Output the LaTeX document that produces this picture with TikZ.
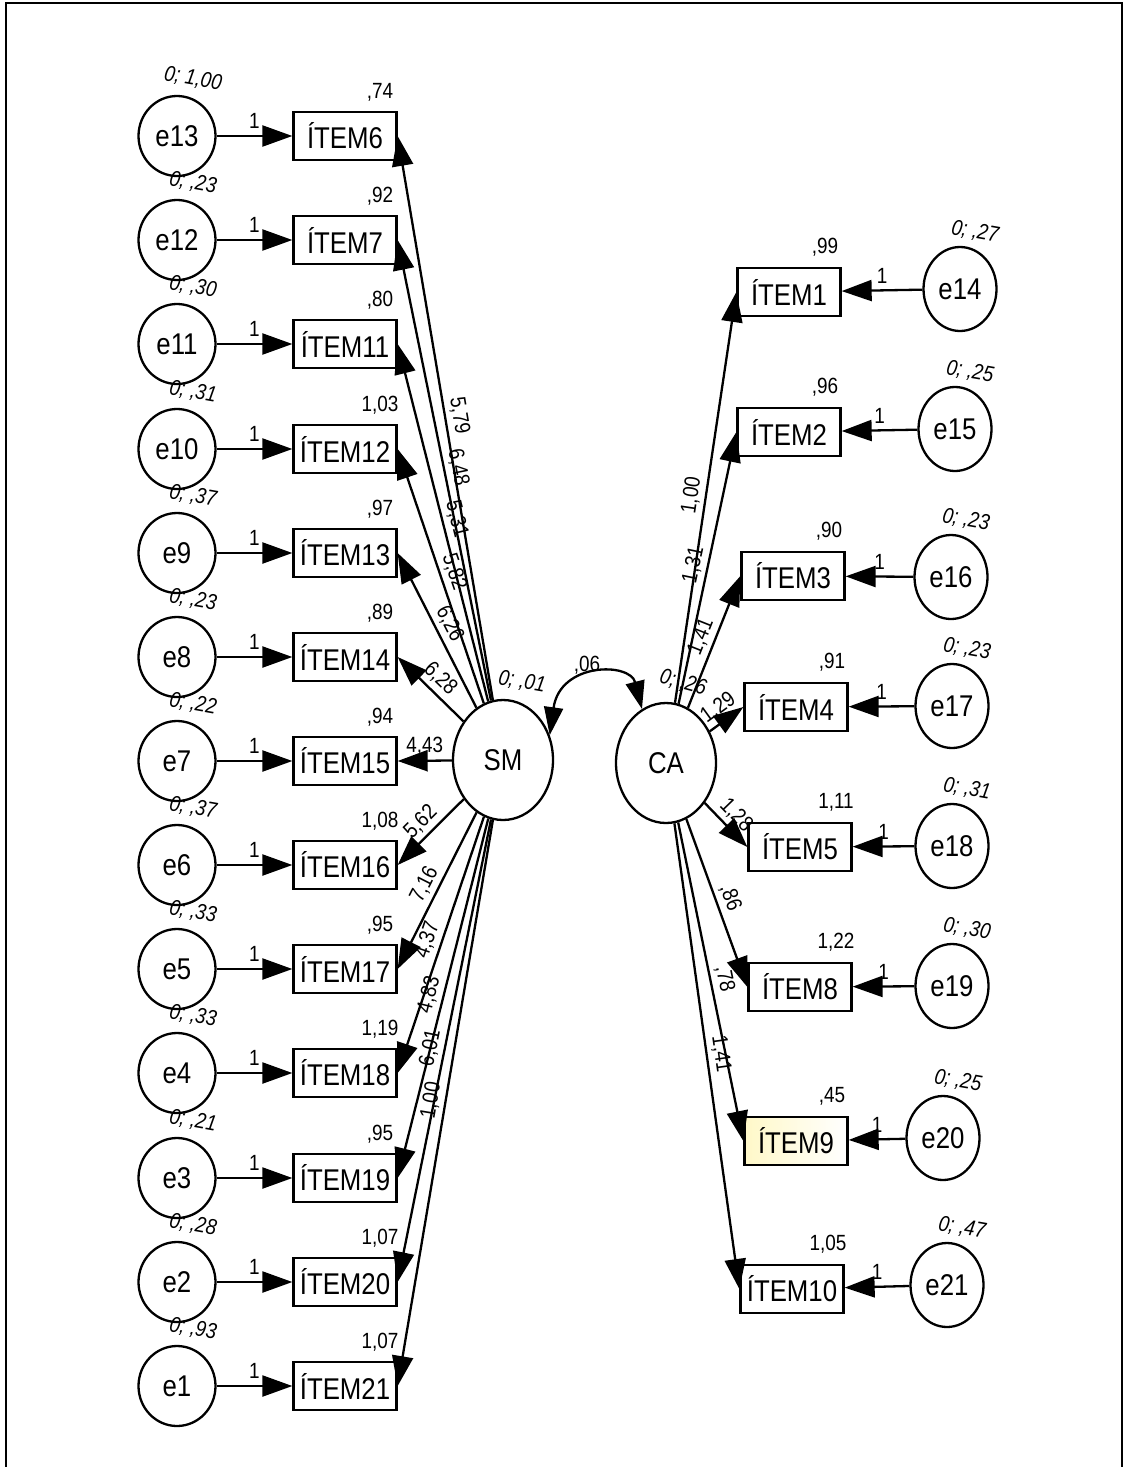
\documentclass[tikz,border=0pt]{standalone}
\usepackage{fontspec}
\setmainfont{Liberation Sans}[FakeStretch=0.86]
\usetikzlibrary{arrows.meta,shapes.geometric}
\newcommand{\LeftRow}[6]{%
  \node[err] (#2) at (177,#1) {#3};
  \node[item] (L#4) at (345,#1) {ÍTEM#4};
  \node[var] (v#2) at (193,#1-57) {#5};
  \node[lbl] (i#4) at (380,#1-44) {#6};
  \draw[path] (#2) -- node[lbl, above=5pt, pos=0.5] {1} (L#4);
}
\newcommand{\RightRow}[9]{%
  \node[item,#9] (R#4) at (#1) {ÍTEM#4};
  \node[errR] (#5) at (#2) {#5};
  \node[lbl] (i#4) at ([shift={(36,-45)}]R#4.center) {#7};
  \node[var] (v#5) at ([shift={(15,-57)}]#5.center) {#6};
  \draw[path] (#5) -- node[lbl, above=5pt] {1} (R#4);
  \draw[path] (ca) -- node[lbl, sloped, above=3pt] {#8} (R#4.west);
}
\begin{document}
\begin{tikzpicture}[x=1pt,y=-1pt,
  item/.style={draw, line width=2.3pt, rectangle, minimum width=103pt, minimum height=48pt, inner sep=0pt, font=\fontsize{30}{34}\selectfont},
  err/.style={draw, line width=2.3pt, ellipse, minimum width=77pt, minimum height=80pt, inner sep=0pt, font=\fontsize{30}{34}\selectfont},
  errR/.style={err, minimum width=73pt, minimum height=84pt},
  lat/.style={draw, line width=2.3pt, ellipse, minimum width=100pt, minimum height=120pt, inner sep=0pt, font=\fontsize{30}{34}\selectfont},
  path/.style={line width=2.3pt, -{Triangle[length=30pt,width=21pt]}},
  lbl/.style={font=\fontsize{22}{26}\selectfont, inner sep=1pt},
  var/.style={font=\fontsize{22}{26}\selectfont\itshape, rotate=-10, inner sep=0pt},
]
\useasboundingbox (0,0) rectangle (1125,1467);
\draw[line width=2.5pt] (6,1467) -- (6,3) -- (1122,3) -- (1122,1467);

% latent variables
\node[lat] (sm) at (503,760) {SM};
\node[lat] (ca) at (666,763) {CA};

% left side
\LeftRow{136}{e13}{e13}{6}{0; 1,00}{,74}
\LeftRow{240}{e12}{e12}{7}{0; ,23}{,92}
\LeftRow{344}{e11}{e11}{11}{0; ,30}{,80}
\LeftRow{449}{e10}{e10}{12}{0; ,31}{1,03}
\LeftRow{553}{e9}{e9}{13}{0; ,37}{,97}
\LeftRow{657}{e8}{e8}{14}{0; ,23}{,89}
\LeftRow{761}{e7}{e7}{15}{0; ,22}{,94}
\LeftRow{865}{e6}{e6}{16}{0; ,37}{1,08}
\LeftRow{969}{e5}{e5}{17}{0; ,33}{,95}
\LeftRow{1073}{e4}{e4}{18}{0; ,33}{1,19}
\LeftRow{1178}{e3}{e3}{19}{0; ,21}{,95}
\LeftRow{1282}{e2}{e2}{20}{0; ,28}{1,07}
\LeftRow{1386}{e1}{e1}{21}{0; ,93}{1,07}

\foreach \n/\l in {6/{5,79},7/{6,48},11/{5,31},12/{5,82},13/{6,26},14/{6,28},15/{4,43},16/{5,62},17/{7,16},18/{4,37},19/{4,83},20/{6,01},21/{1,00}}
  \draw[path] (sm) -- node[lbl, sloped, above=3pt] {\l} (L\n.east);

% right side
\RightRow{789,292}{960,289}{}{1}{e14}{0; ,27}{,99}{1,00}{}
\RightRow{789,432}{955,429}{}{2}{e15}{0; ,25}{,96}{1,31}{}
\RightRow{793,576}{951,577}{}{3}{e16}{0; ,23}{,90}{1,41}{}
\RightRow{796,707}{952,706}{}{4}{e17}{0; ,23}{,91}{1,29}{}
\RightRow{800,847}{952,846}{}{5}{e18}{0; ,31}{1,11}{1,28}{}
\RightRow{800,987}{952,986}{}{8}{e19}{0; ,30}{1,22}{,86}{}
\RightRow{796,1141}{943,1138}{}{9}{e20}{0; ,25}{,45}{,78}{left color={rgb,255:red,255;green,248;blue,200}, right color=white}
\RightRow{792,1289}{947,1285}{}{10}{e21}{0; ,47}{1,05}{1,41}{}

% latent variances and covariance
\node[var] (vsm) at (522,682) {0; ,01};
\node[var, rotate=-5] (vca) at (683,683) {0; ,26};
\draw[line width=2.3pt, {Triangle[length=28pt,width=19pt]}-{Triangle[length=28pt,width=19pt]}]
  (sm.28) .. controls (560,662) and (630,662) .. (ca.114);
\node[lbl] (cov) at (587,665) {,06};
\end{tikzpicture}
\end{document}
